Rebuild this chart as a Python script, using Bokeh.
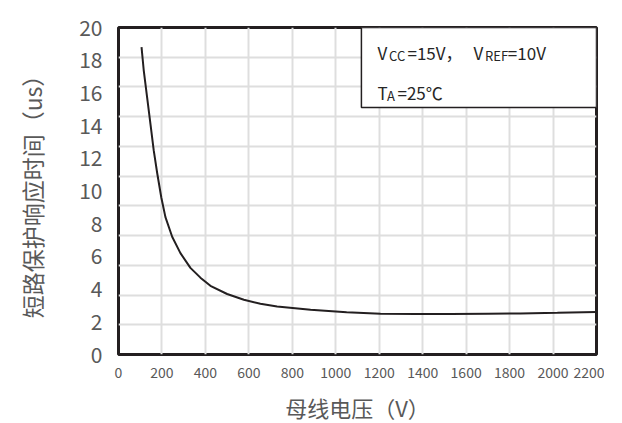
from bokeh.plotting import figure
from bokeh.models import Range1d, Grid, FixedTicker, BoxAnnotation, Label
from bokeh.embed import file_html
from bokeh.resources import INLINE

# Data
bus_voltage = [106, 116, 132, 147, 162, 178, 197, 216, 247, 285, 331, 377, 423,
               500, 577, 653, 730, 884, 1050, 1206, 1370, 1528, 1700, 1850, 2020, 2200]
response_us = [18.8, 17.4, 15.7, 14.1, 12.5, 11.1, 9.6, 8.4, 7.2, 6.2, 5.3, 4.7, 4.2,
               3.7, 3.35, 3.1, 2.94, 2.73, 2.58, 2.49, 2.48, 2.47, 2.49, 2.51, 2.55, 2.6]

x_ticks = [0, 200, 400, 600, 800, 1000, 1200, 1400, 1600, 1800, 2000, 2200]
y_ticks = [0, 2, 4, 6, 8, 10, 12, 14, 16, 18, 20]
grid_rows = [0, 2, 4, 6, 8, 10, 12, 14, 16, 18, 20, 22]

x_title = "母线电压（V）"
y_title = "短路保护响应时间（us）"

FONT = "Noto Sans CJK SC"
GRAY = "#595959"

p = figure(frame_width=478, frame_height=327,
           x_range=Range1d(0, 2200), y_range=Range1d(0, 20),
           output_backend="svg", toolbar_location=None,
           min_border_left=118, min_border_top=27, min_border_right=8,
           min_border_bottom=0)
p.extra_y_ranges = {"grid": Range1d(0, 22)}

p.outline_line_color = "#231f20"
p.outline_line_width = 3
p.outline_line_alpha = 1

# grids
p.xgrid.ticker = FixedTicker(ticks=x_ticks)
p.xgrid.grid_line_color = "#dedede"
p.xgrid.grid_line_width = 2
p.ygrid.visible = False
hgrid = Grid(dimension=1, ticker=FixedTicker(ticks=grid_rows), y_range_name="grid",
             grid_line_color="#dedede", grid_line_width=2)
p.add_layout(hgrid)

# axes
for ax in (p.xaxis[0], p.yaxis[0]):
    ax.axis_line_color = None
    ax.major_tick_line_color = None
    ax.minor_tick_line_color = None
    ax.major_label_text_font = FONT
    ax.major_label_text_color = GRAY
    ax.axis_label_text_font = FONT
    ax.axis_label_text_color = GRAY
    ax.axis_label_text_font_style = "normal"
    ax.major_tick_in = 0
    ax.major_tick_out = 0

p.xaxis.ticker = FixedTicker(ticks=x_ticks)
p.yaxis.ticker = FixedTicker(ticks=y_ticks)
p.xaxis.major_label_text_font_size = "14px"
p.yaxis.major_label_text_font_size = "21px"
p.xaxis.major_label_standoff = 12
p.yaxis.major_label_standoff = 16
p.xaxis.axis_label = x_title
p.yaxis.axis_label = y_title
p.xaxis.axis_label_text_font_size = "22px"
p.yaxis.axis_label_text_font_size = "23px"
p.xaxis.axis_label_standoff = 10
p.yaxis.axis_label_standoff = 27

p.line(bus_voltage, response_us, line_color="#231f20", line_width=2)

# condition box
p.add_layout(BoxAnnotation(left=1118, right=2200, top=20, bottom=15.1,
                           fill_color="white", fill_alpha=1,
                           line_color="#231f20", line_width=1.5, line_alpha=1))

TXT = "#262626"
def lab(x, y, t, size):
    p.add_layout(Label(x=x, y=y, text=t, text_font=FONT, text_font_size=size,
                       text_color=TXT, text_baseline="alphabetic", text_align="left"))

Y1, Y1S = 18.45, 18.27
Y2, Y2S = 16.05, 15.87
lab(1192, Y1, "V", "17px")
lab(1245, Y1S, "CC", "13px")
lab(1330, Y1, "=15V，", "17px")
lab(1634, Y1, "V", "17px")
lab(1687, Y1S, "REF", "13px")
lab(1792, Y1, "=10V", "17px")

lab(1192, Y2, "T", "17px")
lab(1236, Y2S, "A", "13px")
lab(1284, Y2, "=25℃", "17px")

open("out.html", "w").write(file_html(p, INLINE))
